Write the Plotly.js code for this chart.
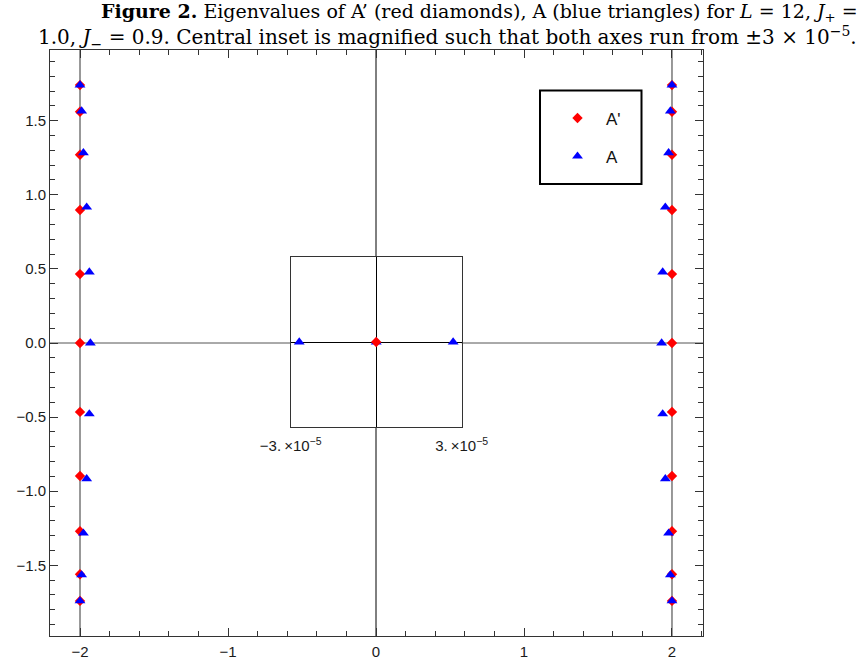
<!DOCTYPE html>
<html>
<head>
<meta charset="utf-8">
<script src="https://cdn.plot.ly/plotly-3.0.1.min.js"></script>
<style>
  body { margin: 0; background: #fff; }
  #chart { width: 859px; height: 668px; }
</style>
</head>
<body>
<div id="chart"></div>
<script>
// eigenvalues of A' (red diamonds): real part, imaginary part
var redRe = [-2, -2, -2, -2, -2, -2, -2, -2, -2, -2, -2,
              2,  2,  2,  2,  2,  2,  2,  2,  2,  2,  2];
var redIm = [1.74, 1.56, 1.27, 0.897, 0.465, 0, -0.465, -0.897, -1.27, -1.56, -1.74,
             1.74, 1.56, 1.27, 0.897, 0.465, 0, -0.465, -0.897, -1.27, -1.56, -1.74];

// eigenvalues of A (blue triangles)
var blueRe = [-2.0, -1.989, -1.977, -1.955, -1.937, -1.93, -1.937, -1.955, -1.977, -1.989, -2.0,
               2.0,  1.989,  1.977,  1.955,  1.937,  1.93,  1.937,  1.955,  1.977,  1.989,  2.0];
var blueIm = [1.74, 1.565, 1.283, 0.916, 0.479, 0, -0.479, -0.916, -1.283, -1.565, -1.74,
              1.74, 1.565, 1.283, 0.916, 0.479, 0, -0.479, -0.916, -1.283, -1.565, -1.74];

// central inset (axes run from -3e-5 to 3e-5)
var insetRedRe = [0];
var insetRedIm = [0];
var insetBlueRe = [-2.7e-5, 0, 2.7e-5];
var insetBlueIm = [0, 0, 0];
var insetTicks = [-3e-5, 3e-5];
var insetTickText = ['\u22123.\u2009\u00d710<sup>\u22125</sup>', '3.\u2009\u00d710<sup>\u22125</sup>'];

var red = '#ff0000';
var blue = '#0000ff';
var axisCol = '#333';
var tickFont = { family: 'Liberation Sans, Arial, sans-serif', size: 15, color: '#1a1a1a' };
var serif = 'DejaVu Serif, serif';

var data = [
	{
		x: redRe, y: redIm, name: "A'", type: 'scatter', mode: 'markers',
		legendgroup: 'a1',
		marker: { symbol: 'diamond', size: 8, color: red }
	},
	{
		x: blueRe, y: blueIm, name: 'A', type: 'scatter', mode: 'markers',
		legendgroup: 'a2',
		marker: { symbol: 'triangle-up', size: 9.5, color: blue }
	},
	// inset
	{
		x: insetBlueRe, y: insetBlueIm, xaxis: 'x2', yaxis: 'y2', type: 'scatter', mode: 'markers',
		showlegend: false,
		marker: { symbol: 'triangle-up', size: 9.5, color: blue }
	},
	{
		x: insetRedRe, y: insetRedIm, xaxis: 'x2', yaxis: 'y2', type: 'scatter', mode: 'markers',
		showlegend: false,
		marker: { symbol: 'diamond', size: 8, color: red }
	}
];

// plot area in pixels
var L = 50, T = 50, W = 653, H = 586;
function px(x) { return (x - L) / W; }
function py(y) { return (T + H - y) / H; }

var layout = {
	width: 859,
	height: 668,
	margin: { l: L, r: 859 - L - W, t: T, b: 668 - T - H },
	paper_bgcolor: '#fff',
	plot_bgcolor: '#fff',
	showlegend: true,
	xaxis: {
		range: [-2.2027, 2.2095],
		dtick: 1, tick0: 0,
		ticks: 'inside', ticklen: 8, tickcolor: axisCol, tickwidth: 1,
		minor: { dtick: 0.2, ticklen: 5, ticks: 'inside', tickcolor: axisCol, showgrid: false },
		showline: true, linecolor: axisCol, linewidth: 1, mirror: 'ticks',
		showgrid: false, zeroline: false,
		ticklabelstandoff: 2,
		tickfont: tickFont
	},
	yaxis: {
		range: [-1.977, 1.977],
		dtick: 0.5, tick0: 0, tickformat: '.1f',
		ticks: 'inside', ticklen: 8, tickcolor: axisCol, tickwidth: 1,
		minor: { dtick: 0.1, ticklen: 5, ticks: 'inside', tickcolor: axisCol, showgrid: false },
		showline: true, linecolor: axisCol, linewidth: 1, mirror: 'ticks',
		showgrid: false, zeroline: false,
		tickfont: tickFont
	},
	xaxis2: {
		domain: [px(290.7), px(461.7)],
		anchor: 'y2',
		range: [-3e-5, 3e-5],
		tickvals: insetTicks, ticktext: insetTickText, ticks: '',
		showline: true, linecolor: axisCol, linewidth: 1, mirror: true,
		showgrid: false, zeroline: true, zerolinecolor: '#000', zerolinewidth: 1,
		ticklabelstandoff: 5,
		tickfont: tickFont
	},
	yaxis2: {
		domain: [py(427.3), py(256.7)],
		anchor: 'x2',
		range: [-3e-5, 3e-5],
		showticklabels: false, ticks: '',
		showline: true, linecolor: axisCol, linewidth: 1, mirror: true,
		showgrid: false, zeroline: true, zerolinecolor: '#000', zerolinewidth: 1
	},
	shapes: [
		{ type: 'line', xref: 'x', yref: 'paper', x0: -2, x1: -2, y0: 0, y1: 1, line: { color: '#333', width: 1 }, layer: 'below' },
		{ type: 'line', xref: 'x', yref: 'paper', x0: 2, x1: 2, y0: 0, y1: 1, line: { color: '#333', width: 1 }, layer: 'below' },
		{ type: 'line', xref: 'x', yref: 'paper', x0: 0, x1: 0, y0: 0, y1: 1, line: { color: '#000', width: 1 }, layer: 'below' },
		{ type: 'line', xref: 'paper', yref: 'y', x0: 0, x1: 1, y0: 0, y1: 0, line: { color: '#555', width: 1 }, layer: 'below' },
		// legend box
		{ type: 'rect', xref: 'paper', yref: 'paper', x0: px(540), x1: px(641.5), y0: py(184), y1: py(90.5),
		  line: { color: '#000', width: 2 }, fillcolor: 'rgba(0,0,0,0)' }
	],
	legend: {
		x: px(549), y: py(100.5), xanchor: 'left', yanchor: 'top',
		bgcolor: 'rgba(0,0,0,0)', borderwidth: 0,
		font: { family: 'Liberation Sans, Arial, sans-serif', size: 17, color: '#111' },
		traceorder: 'grouped', tracegroupgap: 13,
		itemwidth: 47,
		itemsizing: 'trace'
	},
	annotations: [
		{
			xref: 'paper', yref: 'paper', x: px(100), y: py(12.5), xanchor: 'left', yanchor: 'middle',
			showarrow: false, borderpad: 0,
			font: { family: serif, size: 19, color: '#000' },
			text: "<b>Figure 2.</b> Eigenvalues of A\u2019 (red diamonds), A (blue triangles) for <i>L</i> = 12, <i>J</i><sub>+</sub> ="
		},
		{
			xref: 'paper', yref: 'paper', x: px(37), y: py(38), xanchor: 'left', yanchor: 'middle',
			showarrow: false, borderpad: 0,
			font: { family: serif, size: 20, color: '#000' },
			text: "1.0, <i>J</i><sub>\u2212</sub> = 0.9. Central inset is magnified such that both axes run from \u00b13 \u00d7 10<sup>\u22125</sup>."
		}
	]
};

var config = { displayModeBar: false, staticPlot: true };

Plotly.newPlot('chart', data, layout, config);
</script>
</body>
</html>
